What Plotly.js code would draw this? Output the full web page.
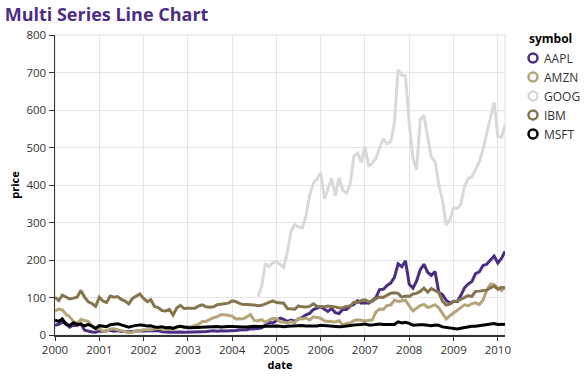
<!DOCTYPE html>
<html><head><meta charset="utf-8">
<script src="https://cdn.plot.ly/plotly-3.0.1.min.js"></script>
<style>html,body{margin:0;padding:0;background:#fff}#chart{width:585px;height:377px}</style>
</head><body><div id="chart"></div>
<script>
const symbols = ["AAPL","AMZN","GOOG","IBM","MSFT"];
const colors = ["#4b2e83","#b7a57a","#d9d9d9","#85754d","#000000"];

function months(startY, startM, n){const out=[];let y=startY,m=startM;for(let i=0;i<n;i++){out.push(y+"-"+String(m).padStart(2,"0")+"-01");m++;if(m>12){m=1;y++;}}return out;}

const MSFT = [39.81,36.35,43.22,28.37,25.45,32.54,28.4,28.4,24.53,28.02,23.34,17.65,24.84,24,22.25,27.56,28.14,29.7,26.93,23.21,20.82,23.65,26.12,26.95,25.92,23.73,24.53,21.26,20.71,22.25,19.52,19.97,17.79,21.75,23.46,21.03,19.31,19.34,19.76,20.87,20.09,20.93,21.56,21.65,22.69,21.45,21.1,22.46,22.69,21.77,20.46,21.45,21.53,23.44,23.38,22.47,22.76,23.02,24.6,24.52,24.11,23.15,22.24,23.28,23.82,22.93,23.64,25.35,23.83,23.8,25.71,24.29,26.14,25.04,25.36,22.5,21.19,21.8,22.51,24.13,25.68,26.96,27.66,28.13,29.07,26.63,26.35,28.3,29.11,27.95,27.5,27.34,28.04,35.03,32.09,34,31.13,26.07,27.21,27.34,27.25,26.47,24.75,26.36,25.78,21.57,19.66,18.91,16.63,15.81,17.99,19.84,20.59,23.42,23.18,24.43,25.49,27.48,29.27,30.34,28.05,28.67,28.8];
const AMZN = [64.56,68.87,67,55.19,48.31,36.31,30.12,41.5,38.44,36.62,24.69,15.56,17.31,10.19,10.23,15.78,16.69,14.15,12.49,8.94,5.97,6.98,11.32,10.82,14.19,14.1,14.3,16.69,18.23,16.25,14.45,14.94,15.93,19.36,23.35,18.89,21.85,22.01,26.03,28.69,35.89,36.32,41.64,46.32,48.43,54.43,53.97,52.62,50.4,43.01,43.28,43.6,48.5,54.4,38.92,38.14,40.86,34.13,39.68,44.29,43.22,35.18,34.27,32.36,35.51,33.09,45.15,42.7,45.3,39.86,48.46,47.15,44.82,37.44,36.53,35.21,34.61,38.68,26.89,30.83,32.12,38.09,40.34,39.46,37.67,39.14,39.79,61.33,69.14,68.41,78.54,79.91,93.15,89.15,90.56,92.64,77.7,64.47,71.3,78.63,81.62,73.33,76.34,80.81,72.76,57.24,42.7,51.28,58.82,64.79,73.44,80.52,77.99,83.66,85.76,81.19,93.36,118.81,135.91,134.52,125.41,118.4,128.82];
const IBM = [100.52,92.11,106.11,99.95,96.31,98.33,100.74,118.62,101.19,88.5,84.12,76.47,100.76,89.98,86.63,103.7,100.82,102.35,94.87,90.25,82.82,97.58,104.5,109.36,97.54,88.82,94.15,75.82,72.97,65.31,63.86,68.52,53.01,71.76,79.16,70.58,71.22,71.13,71.57,77.47,80.48,75.42,74.28,75.12,80.91,81.96,83.08,85.05,91.06,88.7,84.41,81.04,81.59,81.19,80.19,78.17,79.13,82.84,87.15,91.16,86.39,85.78,84.66,70.77,70.18,68.93,77.53,75.07,74.7,76.25,82.98,76.73,75.89,75.09,77.17,77.05,75.04,72.15,72.7,76.35,77.26,87.06,86.95,91.9,93.79,88.18,89.44,96.98,101.54,100.25,105.4,111.54,112.6,111,100.9,103.7,102.75,109.64,110.87,116.23,125.14,114.6,123.74,118.16,113.53,90.24,79.65,82.15,89.46,90.32,95.09,101.29,104.85,103.01,116.34,117,118.55,119.54,125.79,130.32,121.85,127.16,125.55];
const GOOG = [102.37,129.6,190.64,181.98,192.79,195.62,187.99,180.51,220,277.27,294.15,287.76,286,316.46,372.14,404.91,414.86,432.66,362.62,390,417.94,371.82,419.33,386.6,378.53,401.9,476.39,484.81,460.48,501.5,449.45,458.16,471.38,497.91,522.7,510,515.25,567.27,707,693,691.48,564.3,471.18,440.47,574.29,585.8,526.42,473.75,463.29,400.52,359.36,292.96,307.65,338.53,337.99,348.06,395.97,417.23,421.59,443.05,461.67,495.85,536.12,583,619.98,529.94,526.8,560.19];
const AAPL = [25.94,28.66,33.95,31.01,21,26.19,25.41,30.47,12.88,9.78,8.25,7.44,10.81,9.12,11.03,12.74,9.98,11.62,9.4,9.27,7.76,8.78,10.65,10.95,12.36,10.85,11.84,12.14,11.65,8.86,7.63,7.38,7.25,8.03,7.75,7.16,7.18,7.51,7.07,7.11,8.98,9.53,10.54,11.31,10.36,11.44,10.45,10.69,11.28,11.96,13.52,12.89,14.03,16.27,16.17,17.25,19.38,26.2,33.53,32.2,38.45,44.86,41.67,36.06,39.76,36.81,42.65,46.89,53.61,57.59,67.82,71.89,75.51,68.49,62.72,70.39,59.77,57.27,67.96,67.85,76.98,81.08,91.66,84.84,85.73,84.61,92.91,99.8,121.19,122.04,131.76,138.48,153.47,189.95,182.22,198.08,135.36,125.02,143.5,173.95,188.75,167.44,158.95,169.53,113.66,107.59,92.67,85.35,90.13,89.31,105.12,125.83,135.81,142.43,163.39,168.21,185.35,188.5,199.91,210.73,192.06,204.62,223.02];

const dates2000 = months(2000,1,123);
const datesGoog = months(2004,8,68);
const seriesY = {AAPL:AAPL, AMZN:AMZN, GOOG:GOOG, IBM:IBM, MSFT:MSFT};
const seriesX = {AAPL:dates2000, AMZN:dates2000, GOOG:datesGoog, IBM:dates2000, MSFT:dates2000};
const yTicks = [0,100,200,300,400,500,600,700,800];
const xTickYears = ["2000","2001","2002","2003","2004","2005","2006","2007","2008","2009","2010"];
const legendTitle = "symbol";

const traces = symbols.map((s,i)=>({x:seriesX[s], y:seriesY[s], type:"scatter", mode:"lines", name:s,
    line:{color:colors[i], width:3}, showlegend:false}));

const font = "Open Sans, Noto Sans, sans-serif";
// manual legend (plot area: left 55, width 450, top 35, height 300)
const PL=55, PW=450, PT=35, PH=300;
const px = v => (v-PL)/PW;
const py = v => (PT+PH-v)/PH;
const annotations = [{text:legendTitle, xref:"paper", yref:"paper", x:px(527), y:py(39), xanchor:"left", yanchor:"middle",
  showarrow:false, font:{family:font, size:12, color:"#000", weight:"bold"}}];
const shapes = [{type:"rect", xref:"paper", yref:"paper", x0:0, x1:1, y0:0, y1:1, line:{color:"#dddddd", width:1}, layer:"below"}];
symbols.forEach((s,i)=>{
  const cy = 58 + i*19;
  annotations.push({text:s, xref:"paper", yref:"paper", x:px(542), y:py(cy), xanchor:"left", yanchor:"middle",
    showarrow:false, font:{family:font, size:12, color:"#333"}});
  shapes.push({type:"circle", xref:"paper", yref:"paper", xsizemode:"pixel", ysizemode:"pixel",
    xanchor:px(533), yanchor:py(cy), x0:-4.5, x1:4.5, y0:-4.5, y1:4.5,
    line:{color:colors[i], width:2.5}, fillcolor:"rgba(0,0,0,0)"});
});

const layout = {
  width:585, height:377,
  margin:{l:PL, r:585-PL-PW, t:PT, b:377-PT-PH},
  paper_bgcolor:"#fff", plot_bgcolor:"#fff",
  font:{family:font, size:11, color:"#333"},
  title:{text:"Multi Series Line Chart", x:0.008, xanchor:"left", y:0.96, yanchor:"middle",
    font:{family:font, size:18, color:"#4b2e83", weight:"bold"}},
  xaxis:{type:"date", range:["2000-01-01","2010-03-01"],
    tickvals:xTickYears.map(y=>y+"-01-01"), ticktext:xTickYears,
    showgrid:true, gridcolor:"#e5e5e5", gridwidth:1,
    showline:true, linecolor:"#333", linewidth:1.5, ticks:"outside", ticklen:4, tickcolor:"#333",
    tickfont:{size:11.5, color:"#333"}, zeroline:false,
    title:{text:"date", font:{size:11, color:"#000", weight:"bold"}, standoff:0}},
  yaxis:{range:[0,800], tickvals:yTicks, showgrid:true, gridcolor:"#e5e5e5", gridwidth:1,
    showline:true, linecolor:"#333", linewidth:1.5, ticks:"outside", ticklen:5, tickcolor:"#333",
    tickfont:{size:11.5, color:"#333"}, zeroline:false,
    title:{text:"price", font:{size:11, color:"#000", weight:"bold"}, standoff:4}},
  annotations:annotations, shapes:shapes,
  showlegend:false
};
Plotly.newPlot("chart", traces, layout, {displayModeBar:false, staticPlot:true});
</script>
</body></html>
